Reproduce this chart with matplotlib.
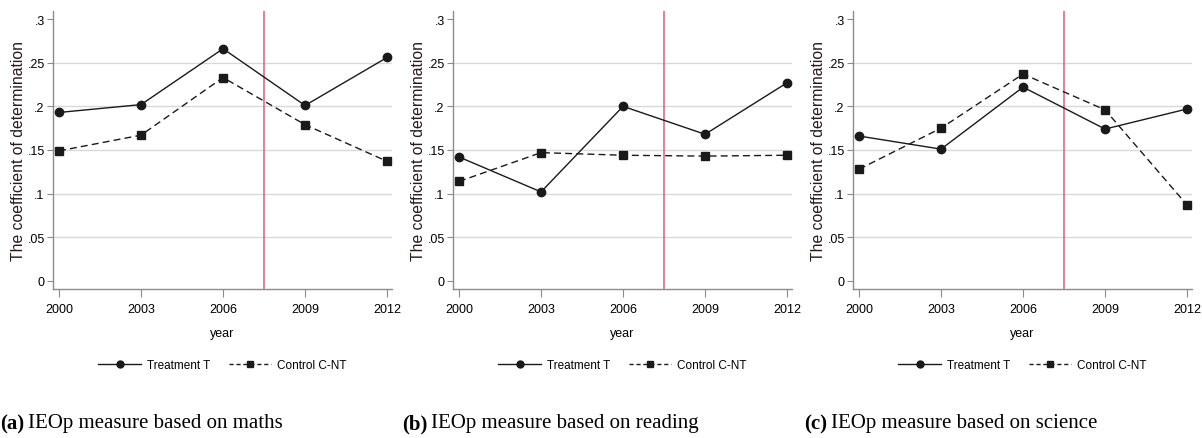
import matplotlib
matplotlib.use("Agg")
import matplotlib.pyplot as plt
from matplotlib.lines import Line2D

years = [2000, 2003, 2006, 2009, 2012]

maths_treat = [0.193, 0.202, 0.266, 0.201, 0.256]
maths_ctrl = [0.149, 0.167, 0.233, 0.179, 0.137]

reading_treat = [0.142, 0.102, 0.200, 0.168, 0.227]
reading_ctrl = [0.114, 0.147, 0.144, 0.143, 0.144]

science_treat = [0.166, 0.151, 0.222, 0.174, 0.197]
science_ctrl = [0.128, 0.175, 0.237, 0.196, 0.087]

yticks = [0, 0.05, 0.1, 0.15, 0.2, 0.25, 0.3]
ytick_labels = ["0", ".05", ".1", ".15", ".2", ".25", ".3"]
policy_year = 2007.5

panels = [
    ("(a)", "IEOp measure based on maths", maths_treat, maths_ctrl),
    ("(b)", "IEOp measure based on reading", reading_treat, reading_ctrl),
    ("(c)", "IEOp measure based on science", science_treat, science_ctrl),
]

W, H = 1202, 439
fig = plt.figure(figsize=(W / 100, H / 100), dpi=100)
sans = ["Liberation Sans", "DejaVu Sans"]
serif = ["Liberation Serif", "DejaVu Serif"]
line_col = "#1a1a1a"
spine_col = "#8c8c8c"

lefts = [53, 453, 853]
for i, (tag, caption, treat, ctrl) in enumerate(panels):
    left = lefts[i]
    ax = fig.add_axes([left / W, (H - 290) / H, 339 / W, 278 / H])
    ax.set_xlim(1999.78, 2012.18)
    ax.set_ylim(-0.0092, 0.3092)

    for yv in yticks[1:-1]:
        ax.axhline(yv, color="#d9d9d9", lw=1.0, zorder=0)
    ax.axvline(policy_year, color="#d9607a", lw=1.1, zorder=1)

    ax.plot(years, treat, color=line_col, lw=1.0, marker="o", ms=6,
            label="Treatment T", zorder=3)
    ax.plot(years, ctrl, color=line_col, lw=1.0, ls=(0, (5, 3)), marker="s",
            ms=5.5, label="Control C-NT", zorder=3)

    for s in ["top", "right"]:
        ax.spines[s].set_visible(False)
    for s in ["left", "bottom"]:
        ax.spines[s].set_color(spine_col)
        ax.spines[s].set_linewidth(1.0)

    ax.set_xticks(years)
    ax.set_xticklabels([str(y) for y in years], family=sans, fontsize=9)
    ax.set_yticks(yticks)
    ax.set_yticklabels(ytick_labels, family=sans, fontsize=9)
    ax.tick_params(axis="x", length=6, color=spine_col, pad=4)
    ax.tick_params(axis="y", length=4, color=spine_col, pad=2)

    ax.set_xlabel("year", family=sans, fontsize=9, labelpad=9)
    ax.set_ylabel("The coefficient of determination", family=sans,
                  fontsize=11.3, color="#2a1a1a", labelpad=1)

    handles = [
        Line2D([], [], color=line_col, lw=1.0, marker="o", ms=5),
        Line2D([], [], color=line_col, lw=1.0, ls=(0, (3, 2)), marker="s", ms=4.5),
    ]
    ax.legend(handles, ["Treatment T", "Control C-NT"], loc="center",
              bbox_to_anchor=(0.5, -0.275), ncol=2, frameon=False,
              prop={"family": sans, "size": 8.5}, handlelength=3.6,
              columnspacing=1.6, handletextpad=0.5)

    x0 = (i * 402) / W
    y0 = (H - 424) / H
    t = fig.text(x0, y0, tag, family=serif, fontweight="bold", fontsize=15,
                 va="center", ha="left")
    fig.canvas.draw()
    bb = t.get_window_extent()
    fig.text((bb.x1 + 4) / W, y0, caption, family=serif, fontsize=15,
             va="center", ha="left")

fig.savefig("out.png", dpi=100)
